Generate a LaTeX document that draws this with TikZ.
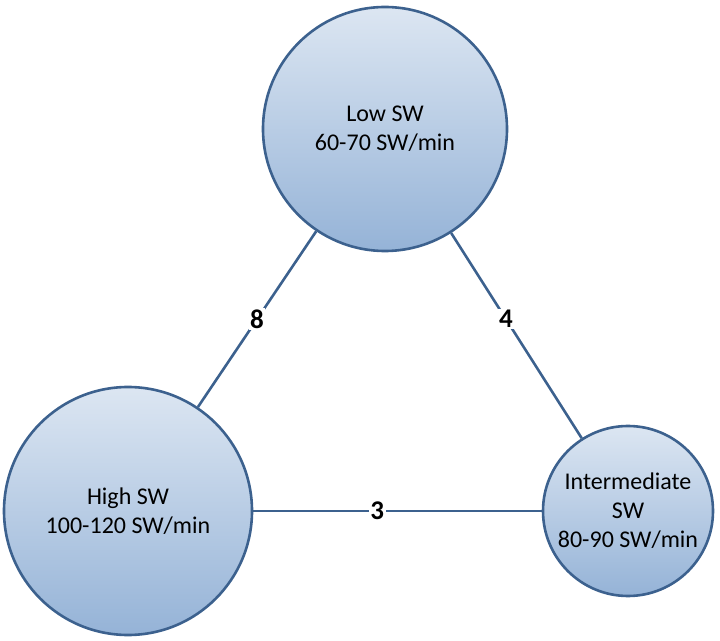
\documentclass[tikz,border=0pt]{standalone}
\usepackage{fontspec}
\setmainfont{Carlito}
\definecolor{edgeblue}{RGB}{60,97,142}
\definecolor{toplight}{RGB}{220,230,242}
\definecolor{botdark}{RGB}{149,179,215}
\begin{document}
\begin{tikzpicture}[x=1pt,y=1pt,
  state/.style={circle, draw=edgeblue, line width=2.6pt, top color=toplight, bottom color=botdark,
    align=center, inner sep=0pt, font=\fontsize{24}{29}\selectfont, text=black},
  link/.style={draw=edgeblue, line width=2.6pt},
  lbl/.style={fill=white, inner sep=1.5pt, font=\fontsize{27}{30}\selectfont\bfseries, text=black}]
\useasboundingbox (0,0) rectangle (720,640);
\node[state, minimum size=244pt] (low) at (385,511) {Low SW\\60-70 SW/min};
\node[state, minimum size=248pt] (high) at (128,129) {High SW\\100-120 SW/min};
\node[state, minimum size=170pt] (int) at (628,129) {Intermediate\\SW\\80-90 SW/min};
\draw[link] (high) -- node[lbl, pos=0.5] {8} (low);
\draw[link] (low) -- node[lbl, pos=0.42] {4} (int);
\draw[link] (high) -- node[lbl, pos=0.43] {3} (int);
\end{tikzpicture}
\end{document}
